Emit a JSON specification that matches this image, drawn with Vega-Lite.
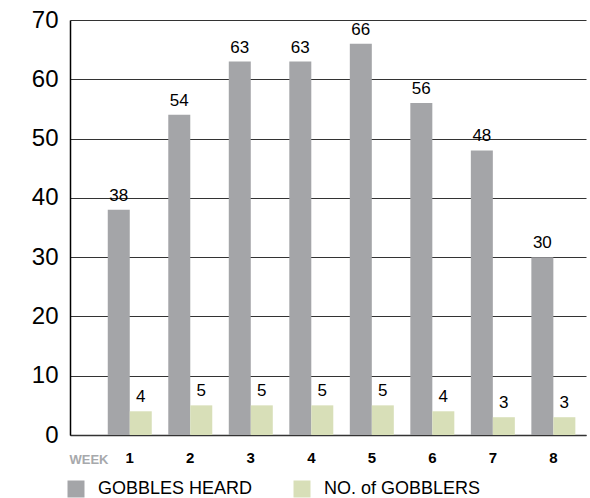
{
  "$schema": "https://vega.github.io/schema/vega-lite/v6.json",
  "width": 516,
  "height": 415,
  "autosize": {"type": "none"},
  "padding": {"left": 70, "top": 20, "right": 4, "bottom": 63},
  "config": {
    "font": "Liberation Sans",
    "view": {"stroke": null}
  },
  "data": {
    "values": [
      {"week": 1, "series": "GOBBLES HEARD", "value": 38},
      {"week": 2, "series": "GOBBLES HEARD", "value": 54},
      {"week": 3, "series": "GOBBLES HEARD", "value": 63},
      {"week": 4, "series": "GOBBLES HEARD", "value": 63},
      {"week": 5, "series": "GOBBLES HEARD", "value": 66},
      {"week": 6, "series": "GOBBLES HEARD", "value": 56},
      {"week": 7, "series": "GOBBLES HEARD", "value": 48},
      {"week": 8, "series": "GOBBLES HEARD", "value": 30},
      {"week": 1, "series": "NO. of GOBBLERS", "value": 4},
      {"week": 2, "series": "NO. of GOBBLERS", "value": 5},
      {"week": 3, "series": "NO. of GOBBLERS", "value": 5},
      {"week": 4, "series": "NO. of GOBBLERS", "value": 5},
      {"week": 5, "series": "NO. of GOBBLERS", "value": 5},
      {"week": 6, "series": "NO. of GOBBLERS", "value": 4},
      {"week": 7, "series": "NO. of GOBBLERS", "value": 3},
      {"week": 8, "series": "NO. of GOBBLERS", "value": 3}
    ]
  },
  "encoding": {
    "x": {
      "field": "week",
      "type": "ordinal",
      "scale": {"paddingInner": 0.273, "paddingOuter": 0.4, "align": 0.78},
      "axis": {
        "labelAngle": 0,
        "labelFontSize": 15,
        "labelFontWeight": "bold",
        "labelColor": "#000000",
        "labelPadding": 15,
        "ticks": false,
        "domainColor": "#333333",
        "domainWidth": 1.5,
        "title": "WEEK",
        "titleFontSize": 13,
        "titleFontWeight": "bold",
        "titleColor": "#a7a9ac",
        "titleAlign": "left",
        "titleBaseline": "alphabetic",
        "titleX": -1,
        "titleY": 28
      }
    },
    "xOffset": {
      "field": "series",
      "type": "nominal",
      "scale": {
        "domain": ["GOBBLES HEARD", "NO. of GOBBLERS"],
        "paddingInner": 0,
        "paddingOuter": 0
      }
    },
    "y": {
      "field": "value",
      "type": "quantitative",
      "scale": {"domain": [0, 70], "nice": false},
      "axis": {
        "values": [0, 10, 20, 30, 40, 50, 60, 70],
        "title": null,
        "labelFontSize": 24,
        "labelColor": "#000000",
        "labelPadding": 12,
        "ticks": false,
        "domainColor": "#000000",
        "domainWidth": 1.5,
        "gridColor": "#333333",
        "gridWidth": 1.2,
        "gridOpacity": 1
      }
    }
  },
  "layer": [
    {
      "mark": {"type": "bar"},
      "encoding": {
        "color": {
          "field": "series",
          "type": "nominal",
          "scale": {
            "domain": ["GOBBLES HEARD", "NO. of GOBBLERS"],
            "range": ["#a4a5a8", "#d8dfb8"]
          },
          "legend": {
            "orient": "none",
            "legendX": -3,
            "legendY": 460,
            "direction": "horizontal",
            "title": null,
            "symbolType": "square",
            "symbolSize": 289,
            "symbolStrokeWidth": 0,
            "labelFontSize": 18,
            "labelColor": "#000000",
            "labelOffset": 13,
            "columnPadding": 40,
            "labelLimit": 300
          }
        }
      }
    },
    {
      "mark": {"type": "text", "baseline": "bottom", "dy": -5, "fontSize": 17, "color": "#000000"},
      "encoding": {
        "text": {"field": "value", "type": "quantitative"}
      }
    }
  ]
}
